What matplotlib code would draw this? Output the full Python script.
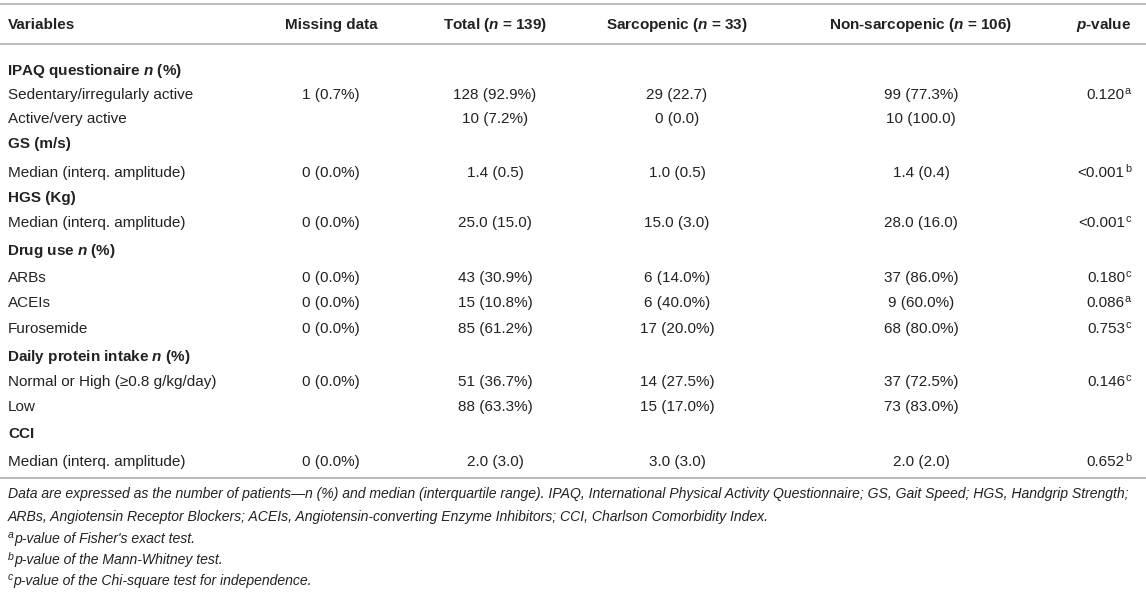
import matplotlib
matplotlib.use("Agg")
import matplotlib.pyplot as plt

plt.rcParams['font.family'] = ['Liberation Sans', 'DejaVu Sans']
plt.rcParams['mathtext.fontset'] = 'custom'
plt.rcParams['mathtext.it'] = 'Liberation Sans:italic:bold'
plt.rcParams['mathtext.rm'] = 'Liberation Sans:bold'
plt.rcParams['mathtext.bf'] = 'Liberation Sans:bold'

# table content
headers = ["Variables", "Missing data", r"Total ($\mathit{n}$ = 139)",
           r"Sarcopenic ($\mathit{n}$ = 33)", r"Non-sarcopenic ($\mathit{n}$ = 106)",
           r"$\mathit{p}$-value"]
labels = [r"IPAQ questionaire $\mathit{n}$ (%)", "Sedentary/irregularly active",
          "Active/very active", "GS (m/s)", "Median (interq. amplitude)", "HGS (Kg)",
          "Median (interq. amplitude)", r"Drug use $\mathit{n}$ (%)", "ARBs", "ACEIs",
          "Furosemide", r"Daily protein intake $\mathit{n}$ (%)",
          "Normal or High (\u22650.8 g/kg/day)", "Low", "CCI", "Median (interq. amplitude)"]
is_section = [1, 0, 0, 1, 0, 1, 0, 1, 0, 0, 0, 1, 0, 0, 1, 0]
missing = ["", "1 (0.7%)", "", "", "0 (0.0%)", "", "0 (0.0%)", "", "0 (0.0%)", "0 (0.0%)",
           "0 (0.0%)", "", "0 (0.0%)", "", "", "0 (0.0%)"]
total = ["", "128 (92.9%)", "10 (7.2%)", "", "1.4 (0.5)", "", "25.0 (15.0)", "",
         "43 (30.9%)", "15 (10.8%)", "85 (61.2%)", "", "51 (36.7%)", "88 (63.3%)", "",
         "2.0 (3.0)"]
sarc = ["", "29 (22.7)", "0 (0.0)", "", "1.0 (0.5)", "", "15.0 (3.0)", "", "6 (14.0%)",
        "6 (40.0%)", "17 (20.0%)", "", "14 (27.5%)", "15 (17.0%)", "", "3.0 (3.0)"]
nonsarc = ["", "99 (77.3%)", "10 (100.0)", "", "1.4 (0.4)", "", "28.0 (16.0)", "",
           "37 (86.0%)", "9 (60.0%)", "68 (80.0%)", "", "37 (72.5%)", "73 (83.0%)", "",
           "2.0 (2.0)"]
pval = ["", "0.120", "", "", "<0.001", "", "<0.001", "", "0.180", "0.086", "0.753", "",
        "0.146", "", "", "0.652"]
pmark = ["", "a", "", "", "b", "", "c", "", "c", "a", "c", "", "c", "", "", "b"]

notes = [
    "Data are expressed as the number of patients\u2014n (%) and median (interquartile range). "
    "IPAQ, International Physical Activity Questionnaire; GS, Gait Speed; HGS, Handgrip Strength;",
    "ARBs, Angiotensin Receptor Blockers; ACEIs, Angiotensin-converting Enzyme Inhibitors; "
    "CCI, Charlson Comorbidity Index.",
]
note_marks = ["a", "b", "c"]
note_tests = ["p-value of Fisher's exact test.", "p-value of the Mann-Whitney test.",
              "p-value of the Chi-square test for independence."]

# layout (pixels)
W, H = 1146, 594
TXT = "#222222"
LINE = "#b4b4b4"
FS = 11.0
FS_NOTE = 10.05
col_x = [8, 331, 495, 677, 921]
p_right = 1131
row_y = [70, 94, 118, 143, 172, 197, 222, 250, 277, 302, 328, 356, 381, 406, 433, 461]
note_y = [494, 517, 539, 560, 581]
BASE = 5

fig = plt.figure(figsize=(W / 100, H / 100), dpi=100)
ax = fig.add_axes([0, 0, 1, 1])
ax.set_xlim(0, W)
ax.set_ylim(H, 0)
ax.axis("off")
renderer = fig.canvas.get_renderer()


def width_of(t):
    bb = t.get_window_extent(renderer=renderer)
    return bb.width


def p_with_sup(xr, y, main, sup):
    s = ax.text(xr, y - 5, sup, ha="right", va="baseline", fontsize=7.8, color=TXT)
    w = width_of(s)
    ax.text(xr - w - 0.3, y, main, ha="right", va="baseline", fontsize=FS, color=TXT)


for yy in (4, 44, 478):
    ax.plot([0, W], [yy, yy], color=LINE, lw=1.3, solid_capstyle="butt")

# header
hy = 24 + BASE
for i, h in enumerate(headers[:5]):
    ax.text(col_x[i], hy, h, ha="left" if i == 0 else "center", va="baseline",
            fontsize=FS, fontweight="bold", color=TXT)
ax.text(p_right, hy, headers[5], ha="right", va="baseline", fontsize=FS,
        fontweight="bold", color=TXT)

# body
for i, lab in enumerate(labels):
    y = row_y[i] + BASE
    x0 = col_x[0] - 1 if "$" in lab else col_x[0]
    ax.text(x0, y, lab, ha="left", va="baseline", fontsize=FS, color=TXT,
            fontweight="bold" if is_section[i] else "normal")
    for j, col in enumerate((missing, total, sarc, nonsarc)):
        if col[i]:
            ax.text(col_x[j + 1], y, col[i], ha="center", va="baseline", fontsize=FS,
                    color=TXT)
    if pval[i]:
        p_with_sup(p_right, y, pval[i], pmark[i])

# footnotes
for k, n in enumerate(notes):
    ax.text(col_x[0], note_y[k] + 4, n, ha="left", va="baseline", fontsize=FS_NOTE,
            style="italic", color=TXT)
for k, (m, t) in enumerate(zip(note_marks, note_tests)):
    y = note_y[k + 2] + 4
    s = ax.text(col_x[0], y - 4.5, m, ha="left", va="baseline", fontsize=7.6,
                style="italic", color=TXT)
    ax.text(col_x[0] + width_of(s) + 0.3, y, t, ha="left", va="baseline",
            fontsize=FS_NOTE, style="italic", color=TXT)

fig.savefig("out.png", dpi=100)
